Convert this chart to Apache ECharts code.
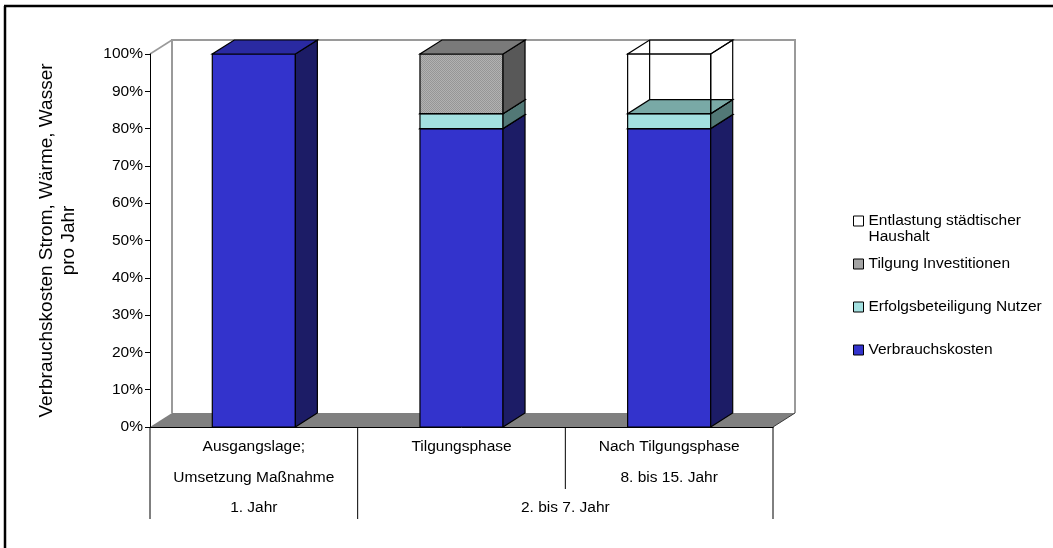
<!DOCTYPE html>
<html>
<head>
<meta charset="utf-8">
<script src="https://cdn.jsdelivr.net/npm/echarts@6/dist/echarts.min.js"></script>
<style>
  html, body { margin: 0; padding: 0; background: #ffffff; }
  #chart { width: 1053px; height: 548px; }
</style>
</head>
<body>
<div id="chart"></div>
<script>
// ---- data ----
const categories = ['Ausgangslage', 'Tilgungsphase', 'Nach Tilgungsphase'];
const labelRow1 = ['Ausgangslage;', 'Tilgungsphase', 'Nach Tilgungsphase'];
const labelRow2 = ['Umsetzung Maßnahme', '', '8. bis 15. Jahr'];
const periodLabels = ['1. Jahr', '2. bis 7. Jahr'];
const periodFrom = [0, 1];
const periodTo = [0, 2];

const verbrauchskosten = [100, 80, 80];
const erfolgsbeteiligung = [0, 4, 4];
const tilgungInvestitionen = [0, 16, 0];
const entlastungHaushalt = [0, 0, 16];

const yMin = 0, yMax = 100, yStep = 10;

// ---- styling ----
const FONT = "'Liberation Sans', Arial, sans-serif";
const FS = 15.5;                   // text size of labels and legend
const DX = 22, DY = -14;           // depth offset of the 3D boxes
const BAR_RATIO = 0.4;

function makeDither() {
  const c = document.createElement('canvas');
  c.width = 2; c.height = 2;
  const g = c.getContext('2d');
  g.fillStyle = '#b2b2b2'; g.fillRect(0, 0, 2, 2);
  g.fillStyle = '#969696'; g.fillRect(0, 0, 1, 1); g.fillRect(1, 1, 1, 1);
  return c;
}
const dither = makeDither();

const seriesDefs = [
  { name: 'Verbrauchskosten', values: verbrauchskosten,
    front: '#3333cc', side: '#1c1c66', top: '#2a2aa2', legend: '#3333cc' },
  { name: 'Erfolgsbeteiligung Nutzer', values: erfolgsbeteiligung,
    front: '#a3e0e0', side: '#527876', top: '#79a9a6', legend: '#a3e0e0' },
  { name: 'Tilgung Investitionen', values: tilgungInvestitionen,
    front: { image: dither, repeat: 'repeat' }, side: '#585858', top: '#7a7a7a', legend: '#a4a4a4' },
  { name: 'Entlastung städtischer Haushalt', values: entlastungHaushalt,
    front: null, side: null, top: null, legend: '#ffffff' }
];

// cumulative stacking
const base = categories.map(() => 0);
const stacked = seriesDefs.map(def => def.values.map((v, i) => {
  const row = [i, base[i], base[i] + v];
  base[i] += v;
  return row;
}));

const EDGE = { stroke: '#000', lineWidth: 1.2 };

function boxRenderer(def) {
  return function (params, api) {
    const cat = api.value(0), lo = api.value(1), hi = api.value(2);
    if (!(hi > lo)) return null;
    const pb = api.coord([cat, lo]);
    const pt = api.coord([cat, hi]);
    const w = api.size([1, 0])[0] * BAR_RATIO;
    const x0 = pb[0] - w / 2, x1 = pb[0] + w / 2;
    const yb = pb[1], yt = pt[1];
    const children = [];
    const solid = def.front !== null;
    if (!solid) {
      // open wire box: hidden edges stay visible
      children.push({ type: 'polyline', shape: { points: [[x0 + DX, yb + DY], [x0 + DX, yt + DY]] },
        style: { fill: null, ...EDGE } });
    }
    children.push({ type: 'rect', shape: { x: x0, y: yt, width: w, height: yb - yt },
      style: { fill: solid ? def.front : null, ...EDGE } });
    children.push({ type: 'polygon', shape: { points: [[x1, yb], [x1 + DX, yb + DY], [x1 + DX, yt + DY], [x1, yt]] },
      style: { fill: solid ? def.side : null, ...EDGE } });
    children.push({ type: 'polygon', shape: { points: [[x0, yt], [x1, yt], [x1 + DX, yt + DY], [x0 + DX, yt + DY]] },
      style: { fill: solid ? def.top : null, ...EDGE } });
    return { type: 'group', children };
  };
}

// back wall, side wall and floor of the 3D plot area
function roomRenderer(params, api) {
  const cs = params.coordSys;
  const x = cs.x, y = cs.y, w = cs.width, h = cs.height;
  const yb = y + h;
  const wall = '#9a9a9a';
  return {
    type: 'group',
    children: [
      { type: 'polygon', shape: { points: [[x, yb], [x, y], [x + DX, y + DY], [x + DX, yb + DY]] },
        style: { fill: '#fff', stroke: null } },
      { type: 'rect', shape: { x: x + DX, y: y + DY, width: w, height: h },
        style: { fill: '#fff', stroke: null } },
      { type: 'polyline', shape: { points: [[x + DX, yb + DY], [x + DX, y + DY], [x + w + DX, y + DY], [x + w + DX, yb + DY]] },
        style: { fill: null, stroke: wall, lineWidth: 2 } },
      { type: 'line', shape: { x1: x, y1: y, x2: x + DX, y2: y + DY },
        style: { stroke: wall, lineWidth: 1.5 } },
      { type: 'polygon', shape: { points: [[x, yb], [x + w, yb], [x + w + DX, yb + DY], [x + DX, yb + DY]] },
        style: { fill: '#808080', stroke: null } },
      { type: 'line', shape: { x1: x + w, y1: yb, x2: x + w + DX, y2: yb + DY },
        style: { stroke: '#3a3a3a', lineWidth: 1 } }
    ]
  };
}

const ROW1 = 20, ROW2 = 51, ROW3 = 81, TABLE_H = 92, SHORT_H = 62;
const textStyle = { fill: '#000', font: FS + 'px ' + FONT, align: 'center', verticalAlign: 'middle' };

// category label rows and separators below the floor
function tableRenderer(params, api) {
  const i = api.value(0);
  const c = api.coord([i, 0]);
  const band = api.size([1, 0])[0];
  const left = c[0] - band / 2, right = c[0] + band / 2, yb = c[1];
  const fullLeft = periodFrom.indexOf(i) >= 0;
  const children = [
    { type: 'line', shape: { x1: left, y1: yb, x2: left, y2: yb + (fullLeft ? TABLE_H : SHORT_H) },
      style: { stroke: '#000', lineWidth: 1 } },
    { type: 'text', x: c[0], y: yb + ROW1, style: { text: labelRow1[i], ...textStyle } },
    { type: 'text', x: c[0], y: yb + ROW2, style: { text: labelRow2[i], ...textStyle } }
  ];
  if (i === categories.length - 1) {
    children.push({ type: 'line', shape: { x1: right, y1: yb, x2: right, y2: yb + TABLE_H },
      style: { stroke: '#000', lineWidth: 1 } });
  }
  return { type: 'group', children };
}

function periodRenderer(params, api) {
  const a = api.coord([api.value(0), 0]);
  const b = api.coord([api.value(1), 0]);
  return { type: 'text', x: (a[0] + b[0]) / 2, y: a[1] + ROW3,
    style: { text: periodLabels[params.dataIndex], ...textStyle } };
}

const series = [
  { type: 'custom', name: 'room', silent: true, clip: false, z: 1,
    renderItem: roomRenderer, data: [[0]] }
];
seriesDefs.forEach((def, k) => {
  series.push({
    type: 'custom', name: def.name, clip: false, z: 3,
    itemStyle: { color: def.legend, borderColor: '#000', borderWidth: 1 },
    renderItem: boxRenderer(def),
    encode: { x: 0, y: [1, 2] },
    data: stacked[k]
  });
});
series.push({ type: 'custom', name: 'table', silent: true, clip: false, z: 3,
  renderItem: tableRenderer, data: categories.map((c, i) => [i]) });
series.push({ type: 'custom', name: 'periods', silent: true, clip: false, z: 3,
  renderItem: periodRenderer, data: periodFrom.map((f, i) => [f, periodTo[i]]) });

const legendText = { color: '#000', fontSize: FS, fontFamily: FONT, lineHeight: 16 };
const legendItem = def => ({ name: def.name,
  itemStyle: { color: def.legend, borderColor: '#000', borderWidth: 1 } });
const LEGEND_X = 853;

const option = {
  animation: false,
  backgroundColor: '#ffffff',
  grid: { left: 150, right: 280, top: 54, bottom: 121 },
  xAxis: {
    type: 'category', data: categories, z: 10,
    axisLine: { lineStyle: { color: '#000', width: 1 } },
    axisTick: { show: false }, axisLabel: { show: false }, splitLine: { show: false }
  },
  yAxis: {
    type: 'value', min: yMin, max: yMax, interval: yStep, z: 10,
    name: 'Verbrauchskosten Strom, Wärme, Wasser\npro Jahr',
    nameLocation: 'middle', nameRotate: 90, nameGap: 70,
    nameTextStyle: { color: '#000', fontSize: 19, fontFamily: FONT, lineHeight: 22 },
    axisLine: { show: true, lineStyle: { color: '#000', width: 1 } },
    axisTick: { show: true, length: 5, lineStyle: { color: '#000' } },
    axisLabel: { color: '#000', fontSize: FS, fontFamily: FONT, margin: 7, formatter: '{value}%' },
    splitLine: { show: false }
  },
  legend: [
    { orient: 'vertical', left: LEGEND_X, top: 197, padding: 0, itemWidth: 10, itemHeight: 10,
      selectedMode: false, icon: 'rect',
      data: [legendItem(seriesDefs[3])],
      // leading blank line keeps the marker level with the first text line
      formatter: n => '\n' + n.replace(' Haushalt', '\nHaushalt'),
      textStyle: legendText },
    { orient: 'vertical', left: LEGEND_X, top: 256, padding: 0, itemWidth: 10, itemHeight: 10, itemGap: 27,
      selectedMode: false, icon: 'rect',
      data: [seriesDefs[2], seriesDefs[1], seriesDefs[0]].map(legendItem),
      textStyle: legendText }
  ],
  graphic: [
    { type: 'line', shape: { x1: 5, y1: 6, x2: 5, y2: 548 }, style: { stroke: '#000', lineWidth: 2.5 } },
    { type: 'line', shape: { x1: 4, y1: 6, x2: 1053, y2: 6 }, style: { stroke: '#000', lineWidth: 2.5 } }
  ],
  series
};

const chart = echarts.init(document.getElementById('chart'), null, { renderer: 'canvas' });
chart.setOption(option);
</script>
</body>
</html>
